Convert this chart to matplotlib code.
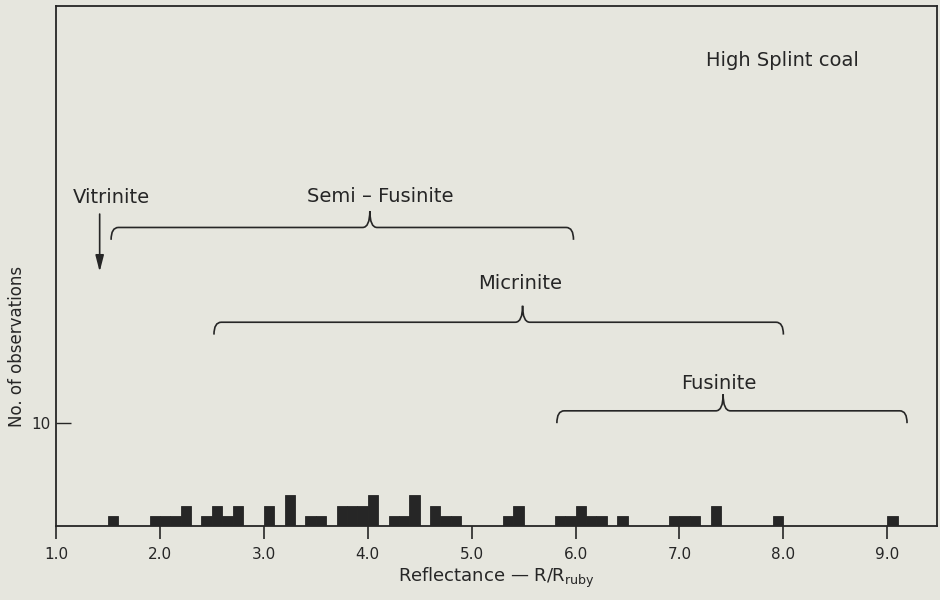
import numpy as np
import matplotlib
matplotlib.use('Agg')
import matplotlib.pyplot as plt
from matplotlib.path import Path
from matplotlib.patches import PathPatch

# histogram bins (left edge, width 0.1) and counts
bin_left = [1.5, 1.9, 2.0, 2.1, 2.2, 2.4, 2.5, 2.6, 2.7, 3.0, 3.2, 3.4, 3.5,
            3.7, 3.8, 3.9, 4.0, 4.2, 4.3, 4.4, 4.6, 4.7, 4.8, 5.3, 5.4, 5.8,
            5.9, 6.0, 6.1, 6.2, 6.4, 6.9, 7.0, 7.1, 7.3, 7.9, 9.0]
counts = [1, 1, 1, 1, 2, 1, 2, 1, 2, 2, 3, 1, 1,
          2, 2, 2, 3, 1, 1, 3, 2, 1, 1, 1, 2, 1,
          1, 2, 1, 1, 1, 1, 1, 1, 2, 1, 1]

# ranges of the macerals: name, start, end, centre, level
range_names = ["Semi \u2013 Fusinite", "Micrinite", "Fusinite"]
range_start = [1.53, 2.52, 5.82]
range_end = [5.98, 8.0, 9.19]
range_mid = [4.02, 5.49, 7.42]
range_level = [29.0, 19.8, 11.2]
label_x = [4.12, 5.47, 7.38]
label_y = [32.0, 23.6, 13.9]

xticks = [1.0, 2.0, 3.0, 4.0, 5.0, 6.0, 7.0, 8.0, 9.0]
ink = '#262626'
bg = '#e6e6de'


def brace(ax, x0, x1, xc, y, drop=1.2, peak=1.6, dx=0.07):
    # curly brace: ends curl down, tip in the middle points up
    verts = [(x0, y - drop), (x0, y), (x0 + dx, y),
             (xc - dx, y), (xc, y), (xc, y + peak),
             (xc, y + peak), (xc, y), (xc + dx, y),
             (x1 - dx, y), (x1, y), (x1, y - drop)]
    codes = [Path.MOVETO, Path.CURVE3, Path.CURVE3,
             Path.LINETO, Path.CURVE3, Path.CURVE3,
             Path.MOVETO, Path.CURVE3, Path.CURVE3,
             Path.LINETO, Path.CURVE3, Path.CURVE3]
    ax.add_patch(PathPatch(Path(verts, codes), fill=False, ec=ink, lw=1.2))


fig = plt.figure(figsize=(9.4, 6), dpi=100, facecolor=bg)
ax = fig.add_axes([0.0596, 0.123, 0.9374, 0.867])
ax.set_facecolor(bg)

ax.bar(bin_left, counts, width=0.1, align='edge', color=ink, edgecolor=ink, lw=0.6)

ax.set_xlim(1.0, 9.48)
ax.set_ylim(0, 50.5)
ax.set_xticks(xticks)
ax.set_xticklabels([f"{t:.1f}" for t in xticks], fontsize=11, color=ink)
ax.set_yticks([10])
ax.set_yticklabels(["10"], fontsize=11, color=ink)
ax.tick_params(axis='x', direction='out', length=9, width=1.2, color=ink, pad=6)
ax.tick_params(axis='y', direction='in', length=11, width=1.0, color=ink, pad=4)
for s in ax.spines.values():
    s.set_color(ink)
    s.set_linewidth(1.3)

ax.set_xlabel("Reflectance \u2014 R/R$_{\\mathregular{ruby}}$", fontsize=13, color=ink, labelpad=3)
fig.text(0.018, 0.423, "No. of observations", rotation=90, fontsize=12,
         color=ink, ha='center', va='center')

for i, name in enumerate(range_names):
    brace(ax, range_start[i], range_end[i], range_mid[i], range_level[i])
    ax.text(label_x[i], label_y[i], name, fontsize=14, color=ink, ha='center', va='center')

ax.text(1.53, 31.9, "Vitrinite", fontsize=14, color=ink, ha='center', va='center')
ax.annotate("", xy=(1.42, 24.7), xytext=(1.42, 30.3),
            arrowprops=dict(arrowstyle='-|>,head_length=0.7,head_width=0.18',
                            color=ink, lw=1.2, mutation_scale=14, shrinkA=0, shrinkB=0))
ax.text(7.99, 45.2, "High Splint coal", fontsize=14, color=ink, ha='center', va='center')

fig.savefig("out.png", dpi=100, facecolor=bg)
